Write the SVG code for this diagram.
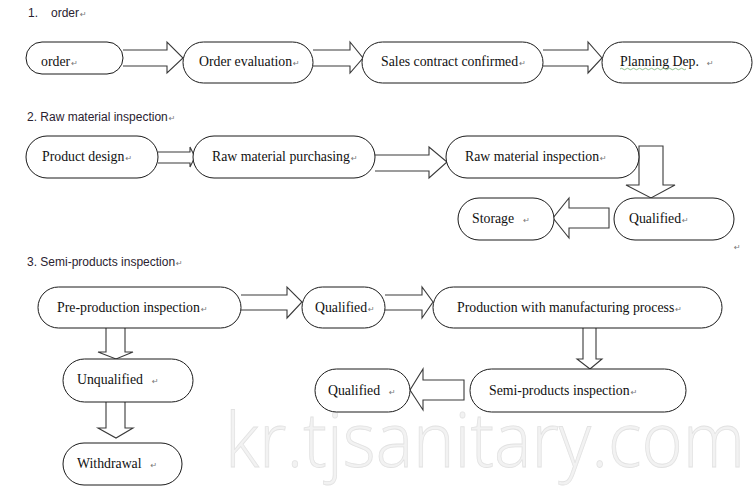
<svg xmlns="http://www.w3.org/2000/svg" width="754" height="491" viewBox="0 0 754 491">
<style>
.n{fill:#fff;stroke:#1a1a1a;stroke-width:1}
.a{fill:#fff;stroke:#3a3a3a;stroke-width:1.1;stroke-linejoin:miter}
.t{font-family:"Liberation Serif","Times New Roman",serif;font-size:13.8px;fill:#111}
.h{font-family:"Liberation Sans",Arial,sans-serif;font-size:12px;fill:#2a2230}
.r{font-family:"DejaVu Sans",sans-serif;font-size:8px;fill:#777}
.w{font-family:"Open Sans","Noto Sans",sans-serif;font-weight:300;font-size:76px;fill:#f2f2f2;stroke:#e2e2e2;stroke-width:0.8}
</style>
<rect width="754" height="491" fill="#fff"/>
<text class="w" x="225" y="467" textLength="520" lengthAdjust="spacingAndGlyphs">kr.tjsanitary.com</text>

<g id="headings">
<text class="h" x="28" y="17">1.</text>
<text class="h" x="51" y="17">order<tspan class="r" dx="1">↵</tspan></text>
<text class="h" x="27" y="121">2. Raw material inspection<tspan class="r" dx="1">↵</tspan></text>
<text class="h" x="27" y="266">3. Semi-products inspection<tspan class="r" dx="1">↵</tspan></text>
<text class="r" x="734" y="250">↵</text>
</g>

<g id="connectors">
<path class="a" d="M123,50 H167 V42 L183,58 L167,73 V66 H123"/>
<path class="a" d="M313,50 H350 V42 L363,58 L350,73 V66 H313"/>
<path class="a" d="M543,50 H588 V42 L602,58 L588,73 V66 H543"/>
<path class="a" d="M158,152 H190 V147 L195,157 L190,167 V163 H158"/>
<path class="a" d="M375,155 H429 V147 L447,162 L429,178 V171 H375"/>
<path class="a" d="M639,146 H663 V185 H675 L651,198 L626,185 H639 Z"/>
<path class="a" d="M609,208 H569 V198 L553,218 L569,238 V228 H609 Z"/>
<path class="a" d="M241,295 H287 V287 L302,302 L287,318 V310 H241"/>
<path class="a" d="M385,295 H422 V287 L433,302 L422,318 V310 H385"/>
<path class="a" d="M583,328 V359 H577 L590,369 L602,359 H596 V328"/>
<path class="a" d="M464,380 H423 V369 L410,390 L423,410 V400 H464 Z"/>
<path class="a" d="M106,328 V352 H98 L116,359 L133,352 H125 V328"/>
<path class="a" d="M106,402 V428 H98 L116,438 L133,428 H125 V402"/>
</g>

<g id="n-order"><rect class="n" x="26" y="42" width="97" height="32" rx="16"/><text class="t" x="41" y="66">order<tspan class="r" dx="1">↵</tspan></text></g>
<g id="n-order-evaluation"><rect class="n" x="183" y="42" width="130" height="41" rx="20.5"/><text class="t" x="199" y="66">Order evaluation<tspan class="r" dx="1">↵</tspan></text></g>
<g id="n-sales-contract"><rect class="n" x="362" y="42" width="181" height="41" rx="20.5"/><text class="t" x="381" y="66">Sales contract confirmed<tspan class="r" dx="1">↵</tspan></text></g>
<g id="n-planning"><rect class="n" x="602" y="42" width="150" height="41" rx="20.5"/><text class="t" x="620" y="66">Planning Dep.<tspan class="r" dx="8">↵</tspan></text>
<path d="M620,69 q1.5,-1.5 3,0 t3,0 t3,0 t3,0 t3,0 t3,0 t3,0 t3,0 t3,0 t3,0 t3,0 t3,0 t3,0 t3,0 t3,0 t3,0 t3,0 t3,0 t3,0 t3,0 t3,0 t3,0" fill="none" stroke="#4a9a4a" stroke-width="0.6"/></g>

<g id="n-product-design"><rect class="n" x="26" y="136" width="132" height="42" rx="21"/><text class="t" x="42" y="161">Product design<tspan class="r" dx="1">↵</tspan></text></g>
<g id="n-raw-purchasing"><rect class="n" x="193" y="136" width="182" height="42" rx="21"/><text class="t" x="212" y="161">Raw material purchasing<tspan class="r" dx="1">↵</tspan></text></g>
<g id="n-raw-inspection"><rect class="n" x="446" y="136" width="193" height="42" rx="21"/><text class="t" x="465" y="161">Raw material inspection<tspan class="r" dx="1">↵</tspan></text></g>
<g id="n-qualified-1"><rect class="n" x="614" y="198" width="120" height="42" rx="21"/><text class="t" x="629" y="223">Qualified<tspan class="r" dx="1">↵</tspan></text></g>
<g id="n-storage"><rect class="n" x="458" y="198" width="96" height="42" rx="21"/><text class="t" x="472" y="223">Storage<tspan class="r" dx="9">↵</tspan></text></g>

<g id="n-pre-production"><rect class="n" x="38" y="287" width="203" height="41" rx="20.5"/><text class="t" x="57" y="312">Pre-production inspection<tspan class="r" dx="1">↵</tspan></text></g>
<g id="n-qualified-2"><rect class="n" x="302" y="287" width="83" height="41" rx="20.5"/><text class="t" x="315" y="312">Qualified<tspan class="r" dx="1">↵</tspan></text></g>
<g id="n-production"><rect class="n" x="433" y="287" width="289" height="41" rx="20.5"/><text class="t" x="457" y="312">Production with manufacturing process<tspan class="r" dx="1">↵</tspan></text></g>
<g id="n-semi-inspection"><rect class="n" x="470" y="369" width="216" height="43" rx="21.5"/><text class="t" x="489" y="395">Semi-products inspection<tspan class="r" dx="1">↵</tspan></text></g>
<g id="n-qualified-3"><rect class="n" x="315" y="369" width="95" height="43" rx="21.5"/><text class="t" x="328" y="395">Qualified<tspan class="r" dx="9">↵</tspan></text></g>
<g id="n-unqualified"><rect class="n" x="63" y="359" width="130" height="43" rx="21.5"/><text class="t" x="77" y="384">Unqualified<tspan class="r" dx="9">↵</tspan></text></g>
<g id="n-withdrawal"><rect class="n" x="63" y="443" width="119" height="42" rx="21"/><text class="t" x="77" y="468">Withdrawal<tspan class="r" dx="9">↵</tspan></text></g>
</svg>
